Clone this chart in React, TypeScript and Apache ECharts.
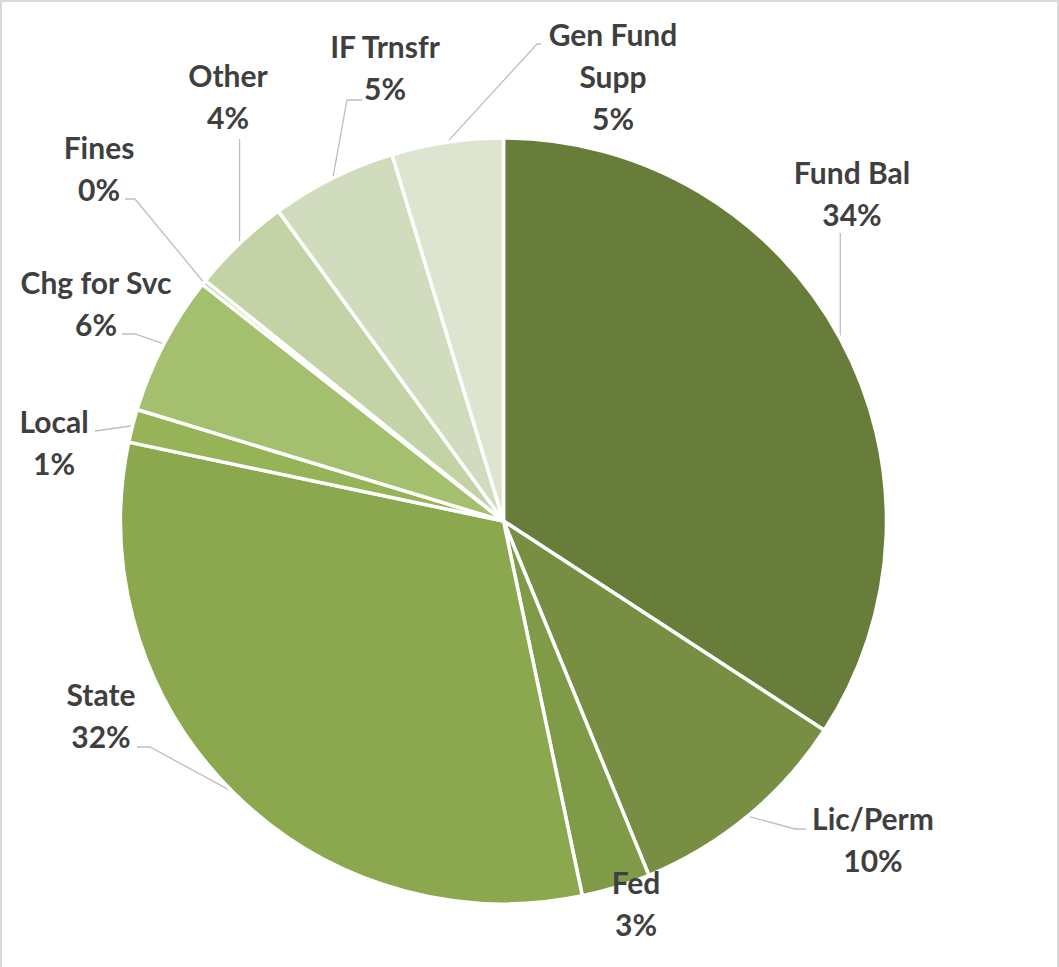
import React, { useEffect, useRef } from "react";
import * as echarts from "echarts";

const categories = ["Fund Bal", "Lic/Perm", "Fed", "State", "Local", "Chg for Svc", "Fines", "Other", "IF Trnsfr", "Gen Fund Supp"];
const labelNames = ["Fund Bal", "Lic/Perm", "Fed", "State", "Local", "Chg for Svc", "Fines", "Other", "IF Trnsfr", "Gen Fund\nSupp"];
const values = [34.2, 9.6, 2.9, 31.6, 1.4, 5.9, 0.2, 4.2, 5.3, 4.7];
const colors = ["#697d3b", "#788f43", "#809b48", "#8ba84f", "#97b357", "#a4bf6e", "#b4ca8c", "#c3d3a5", "#d0dcbd", "#dde5d0"];

// label layout: centre of label block, leader end point, tail length, vertical flag, show line
const labelLayoutCfg = [
  { cx: 852, cy: 193, ex: 0, ey: 233, tail: 0, vertical: true, line: true },
  { cx: 873, cy: 839, ex: 795, ey: 829, tail: 11, vertical: false, line: true },
  { cx: 636, cy: 903, ex: 0, ey: 0, tail: 0, vertical: false, line: false },
  { cx: 101, cy: 715, ex: 150, ey: 747, tail: -13, vertical: false, line: true },
  { cx: 54, cy: 442, ex: 95, ey: 431, tail: 0, vertical: false, line: true },
  { cx: 96, cy: 303, ex: 135, ey: 334, tail: -13, vertical: false, line: true },
  { cx: 99, cy: 168, ex: 135, ey: 199, tail: -10, vertical: false, line: true },
  { cx: 228, cy: 96, ex: 0, ey: 139, tail: 0, vertical: true, line: true },
  { cx: 385, cy: 67, ex: 347, ey: 100, tail: 15, vertical: false, line: true },
  { cx: 613, cy: 76, ex: 537, ey: 44, tail: 4, vertical: false, line: true },
];

export default function App() {
  const ref = useRef<HTMLDivElement>(null);
  useEffect(() => {
    if (!ref.current) return;
    const chart = echarts.init(ref.current, null, { renderer: "svg" });
    const total = values.reduce((a, b) => a + b, 0);
    const cx = 503.5;
    const cy = 521;
    const R = 383;
    const data = categories.map((name, i) => ({
      name,
      value: values[i],
      itemStyle: { color: colors[i] },
      labelLine: { show: labelLayoutCfg[i].line },
    }));
    chart.setOption({
      animation: false,
      backgroundColor: "#ffffff",
      graphic: [
        {
          type: "rect",
          shape: { x: 1, y: 1, width: 1057, height: 1000 },
          style: { fill: "none", stroke: "#d9d9d9", lineWidth: 2 },
          silent: true,
        },
      ],
      series: [
        {
          type: "pie",
          center: [cx, cy],
          radius: R,
          startAngle: 90,
          clockwise: true,
          avoidLabelOverlap: false,
          data,
          itemStyle: { borderColor: "#ffffff", borderWidth: 3.5 },
          emphasis: { disabled: true },
          label: {
            show: true,
            position: "outside",
            formatter: (p: any) => `${labelNames[p.dataIndex]}\n${Math.round((p.value / total) * 100)}%`,
            color: "#3f3f3f",
            fontFamily: "Lato",
            fontWeight: "bold",
            fontSize: 30,
            lineHeight: 42,
            align: "center",
          },
          labelLine: {
            show: true,
            length: 10,
            length2: 10,
            lineStyle: { color: "#bfbfbf", width: 1.3 },
          },
          labelLayout: (params: any) => {
            const i = params.dataIndex;
            const c = labelLayoutCfg[i];
            let before = 0;
            for (let k = 0; k < i; k++) before += values[k];
            const mid = ((before + values[i] / 2) / total) * Math.PI * 2;
            const sx = cx + R * Math.sin(mid);
            const sy = cy - R * Math.cos(mid);
            let pts: number[][];
            if (c.vertical) {
              pts = [[sx, sy], [sx, c.ey]];
            } else if (c.tail !== 0) {
              pts = [[sx, sy], [c.ex, c.ey], [c.ex + c.tail, c.ey]];
            } else {
              pts = [[sx, sy], [c.ex, c.ey]];
            }
            return {
              x: c.cx,
              y: c.cy,
              align: "center",
              verticalAlign: "middle",
              labelLinePoints: pts,
            };
          },
        },
      ],
    });
    return () => chart.dispose();
  }, []);
  return (
    <div
      ref={ref}
      style={{ position: "absolute", left: 0, top: 0, width: 1059, height: 967 }}
    />
  );
}
